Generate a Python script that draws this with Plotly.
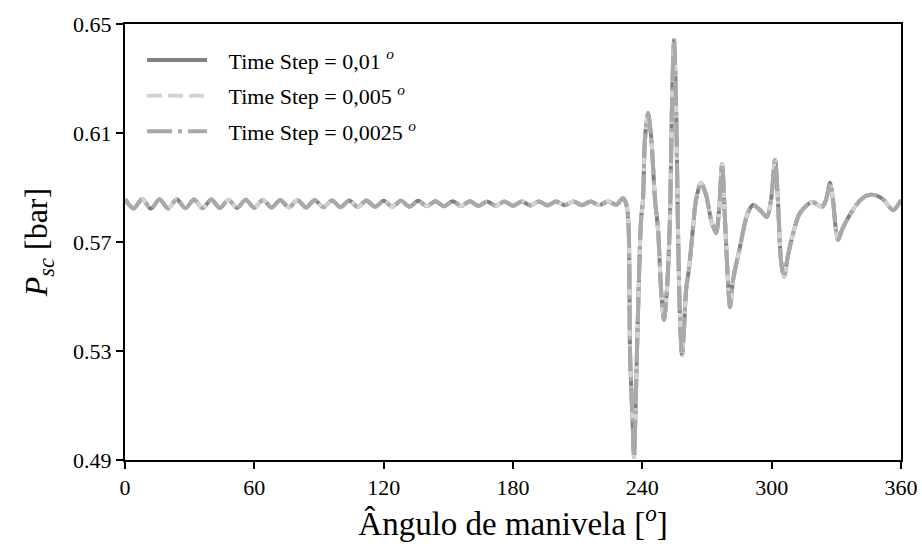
import plotly.graph_objects as go

# Crank angle [deg] and suction-chamber pressure [bar]
crank_angle = [
    0, 4, 8, 12, 16, 20, 24, 28, 32, 36, 40, 44, 48, 52, 56, 60, 64, 68, 72, 76,
    80, 84, 88, 92, 96, 100, 104, 108, 112, 116, 120, 124, 128, 132, 136, 140,
    144, 148, 152, 156, 160, 164, 168, 172, 176, 180, 184, 188, 192, 196, 200,
    204, 208, 212, 216, 220, 224, 228,
    231.0, 232.4, 233.5, 234.3, 235.45, 236.13, 236.74, 237.5, 239.4, 240.3,
    241.2, 242.6, 244.0, 245.9, 247.3, 248.7, 250.05, 251.4, 252.8, 253.8,
    254.7, 255.6, 256.55, 257.5, 258.4, 259.3, 260.3, 261.7, 263.5, 264.9,
    267.2, 269.6, 271.9, 274.2, 275.6, 277.0, 278.35, 279.7, 280.7, 282.1,
    285.3, 288.6, 291.3, 294.6, 297.8, 299.7, 301.55, 302.9, 304.3, 305.7,
    307.6, 310.4, 313.1, 318.7, 323.35, 325.2, 327.06, 328.45, 329.8, 330.8,
    332.6, 335.4, 340.0, 343.8, 347.9, 352.1, 356.3, 360.0,
]
pressure = [
    0.5857, 0.5823, 0.5858, 0.5822, 0.5857, 0.5823, 0.5857, 0.5824, 0.5856,
    0.5824, 0.5856, 0.5825, 0.5855, 0.5825, 0.5855, 0.5826, 0.5854, 0.5826,
    0.5854, 0.5827, 0.5853, 0.5827, 0.5853, 0.5828, 0.5852, 0.5828, 0.5852,
    0.5829, 0.5852, 0.5829, 0.5851, 0.5830, 0.5851, 0.5830, 0.5851, 0.5831,
    0.5850, 0.5831, 0.5850, 0.5832, 0.5850, 0.5832, 0.5849, 0.5833, 0.5849,
    0.5833, 0.5849, 0.5834, 0.5849, 0.5834, 0.5849, 0.5835, 0.5849, 0.5835,
    0.5849, 0.5836, 0.5849, 0.5837,
    0.5861, 0.5843, 0.5781, 0.5293, 0.5047, 0.4911, 0.5047, 0.5293, 0.5781,
    0.5854, 0.6074, 0.6173, 0.6093, 0.5854, 0.5744, 0.5524, 0.5414, 0.5524,
    0.5781, 0.6221, 0.6441, 0.6221, 0.5744, 0.5414, 0.5285, 0.5377, 0.5524,
    0.5605, 0.5751, 0.5854, 0.5917, 0.5872, 0.5781, 0.5733, 0.5817, 0.5986,
    0.5781, 0.5561, 0.5461, 0.5561, 0.5682, 0.5799, 0.5836, 0.5817, 0.5792,
    0.5854, 0.6001, 0.5854, 0.5634, 0.5572, 0.5652, 0.5744, 0.5806, 0.5847,
    0.5829, 0.5854, 0.5917, 0.5854, 0.5744, 0.5707, 0.5744, 0.5788, 0.5843,
    0.5869, 0.5872, 0.5854, 0.5817, 0.5854,
]

series_names = [
    "&nbsp;&nbsp;&nbsp;Time Step = 0,01 <sup><i>o</i></sup>",
    "&nbsp;&nbsp;&nbsp;Time Step = 0,005 <sup><i>o</i></sup>",
    "&nbsp;&nbsp;&nbsp;Time Step = 0,0025 <sup><i>o</i></sup>",
]
series_colors = ["#808080", "#d3d3d3", "#a9a9a9"]
series_dash = ["solid", "15px,6px", "25px,6px,4px,6px"]

x_ticks = [0, 60, 120, 180, 240, 300, 360]
y_ticks = [0.49, 0.53, 0.57, 0.61, 0.65]

FONT = "Liberation Serif, DejaVu Serif, serif"

fig = go.Figure()
for i, (name, color, dash) in enumerate(zip(series_names, series_colors, series_dash)):
    fig.add_trace(go.Scatter(
        x=crank_angle, y=pressure, mode="lines", name=name,
        legendgroup=f"g{i}",
        line=dict(color=color, width=4, dash=dash, shape="spline", smoothing=0.8),
    ))

fig.update_layout(
    width=922, height=554,
    margin=dict(l=125, r=21, t=24, b=94),
    paper_bgcolor="white", plot_bgcolor="white",
    font=dict(family=FONT, size=22, color="black"),
    showlegend=True,
    legend=dict(
        x=0.022, y=0.965, xanchor="left", yanchor="top",
        bgcolor="rgba(255,255,255,0)", borderwidth=0,
        font=dict(family=FONT, size=22, color="black"),
        tracegroupgap=4, itemwidth=60,
    ),
)
fig.update_xaxes(
    range=[0, 360], tickvals=x_ticks, ticktext=[str(v) for v in x_ticks],
    showgrid=False, zeroline=False, automargin=False,
    showline=True, linecolor="black", linewidth=2, mirror=True,
    ticks="outside", ticklen=7, tickwidth=2, tickcolor="black",
    tickfont=dict(family=FONT, size=22),
    title=dict(text="Ângulo de manivela [<sup><i>o</i></sup>]",
               font=dict(family=FONT, size=33), standoff=10),
)
fig.update_yaxes(
    range=[0.49, 0.65], tickvals=y_ticks, ticktext=[f"{v:.2f}" for v in y_ticks],
    showgrid=False, zeroline=False, automargin=False,
    showline=True, linecolor="black", linewidth=2, mirror=True,
    ticks="outside", ticklen=7, tickwidth=2, tickcolor="black",
    tickfont=dict(family=FONT, size=22),
    title=dict(text="<i>P</i><sub><i>sc</i></sub> [bar]",
               font=dict(family=FONT, size=32), standoff=16),
)

fig.write_html("out.html")
